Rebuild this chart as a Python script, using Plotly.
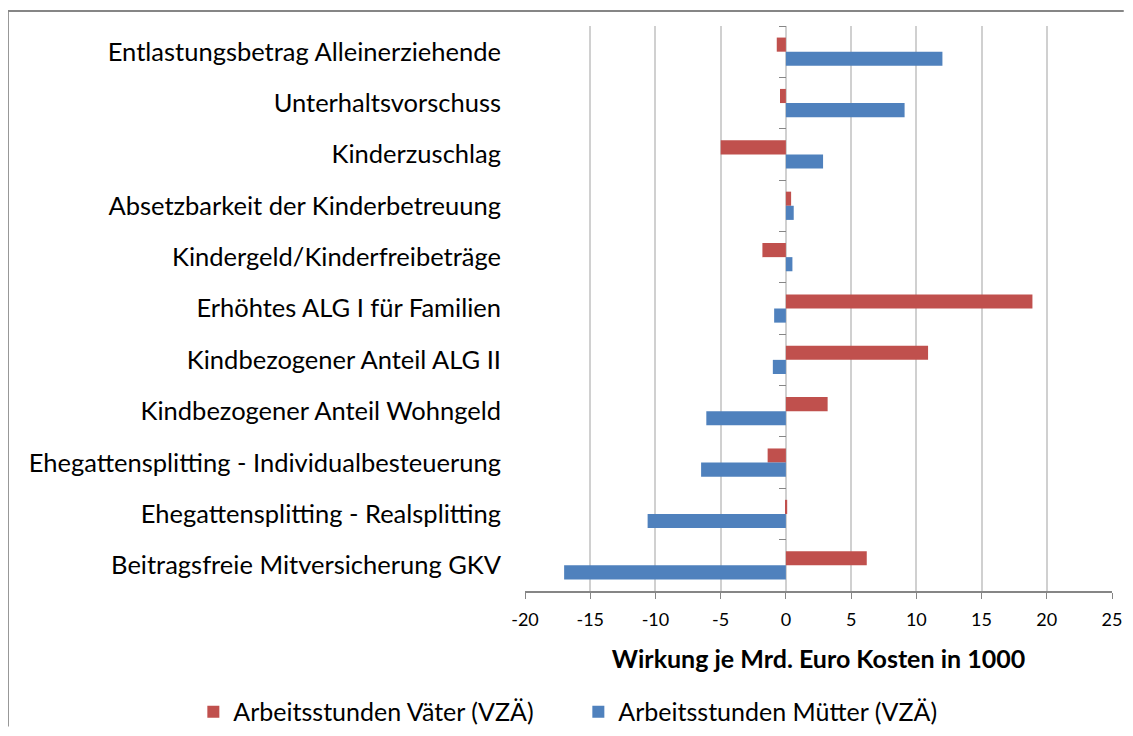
import plotly.graph_objects as go

categories = [
    "Entlastungsbetrag Alleinerziehende",
    "Unterhaltsvorschuss",
    "Kinderzuschlag",
    "Absetzbarkeit der Kinderbetreuung",
    "Kindergeld/Kinderfreibeträge",
    "Erhöhtes ALG I für Familien",
    "Kindbezogener Anteil ALG II",
    "Kindbezogener Anteil Wohngeld",
    "Ehegattensplitting - Individualbesteuerung",
    "Ehegattensplitting - Realsplitting",
    "Beitragsfreie Mitversicherung GKV",
]
vaeter = [-0.7, -0.45, -5.0, 0.4, -1.8, 18.9, 10.9, 3.2, -1.4, 0.1, 6.2]
muetter = [12.0, 9.1, 2.85, 0.6, 0.5, -0.9, -1.0, -6.1, -6.5, -10.6, -17.0]
x_ticks = [-20, -15, -10, -5, 0, 5, 10, 15, 20, 25]

FONT = "Lato"
RED = "#C0504D"
BLUE = "#4F81BD"
GRID = "#D0D0D0"
AXIS = "#868686"

fig = go.Figure()
fig.add_trace(go.Bar(y=categories, x=vaeter, orientation="h",
                     name="Arbeitsstunden Väter (VZÄ)",
                     marker=dict(color=RED, line=dict(width=0))))
fig.add_trace(go.Bar(y=categories, x=muetter, orientation="h",
                     name="Arbeitsstunden Mütter (VZÄ)",
                     marker=dict(color=BLUE, line=dict(width=0))))
# invisible trace carrying the category tick marks at x = 0
fig.add_trace(go.Scatter(y=categories, x=[0] * len(categories), yaxis="y2",
                         mode="markers", marker=dict(opacity=0, size=1),
                         showlegend=False, hoverinfo="skip"))

x_lo, x_hi = -20, 25
zero_pos = (0 - x_lo) / (x_hi - x_lo)
y_range = [len(categories) - 0.5, -0.5]

# page body has an 8px margin, so the figure is sized to fit the window
fig.update_layout(
    width=1117, height=720,
    margin=dict(l=517, r=13, t=18, b=137, autoexpand=False),
    paper_bgcolor="white", plot_bgcolor="white",
    barmode="group", bargap=0.45, bargroupgap=0,
    font=dict(family=FONT, color="#000000"),
    xaxis=dict(
        range=[x_lo, x_hi], tickvals=x_ticks, ticktext=[str(v) for v in x_ticks],
        showgrid=True, gridcolor=GRID, gridwidth=2,
        zeroline=True, zerolinecolor=GRID, zerolinewidth=2,
        showline=True, linecolor=AXIS, linewidth=2,
        ticks="outside", ticklen=6, tickcolor=AXIS, tickwidth=1,
        ticklabelstandoff=5,
        tickfont=dict(size=18, family=FONT),
        automargin=False,
        title=dict(text="<b>Wirkung je Mrd. Euro Kosten in 1000</b>",
                   font=dict(size=25, family=FONT), standoff=22),
    ),
    yaxis=dict(
        type="category", categoryorder="array", categoryarray=categories,
        range=y_range, autorange=False, showgrid=False, zeroline=False,
        showline=False, ticks="", tickfont=dict(size=25.5, family=FONT),
        ticklabelstandoff=23, automargin=False,
    ),
    yaxis2=dict(
        type="category", categoryorder="array", categoryarray=categories,
        overlaying="y", matches="y", anchor="free", position=zero_pos,
        side="left", showgrid=False, zeroline=False, showline=False,
        ticks="outside", tickson="boundaries", ticklen=7,
        tickcolor=AXIS, tickwidth=1, showticklabels=False, automargin=False,
    ),
    legend=dict(orientation="h", x=-0.565, xanchor="left",
                y=-0.214, yanchor="middle", font=dict(size=25, family=FONT),
                entrywidth=340, entrywidthmode="pixels",
                bgcolor="rgba(0,0,0,0)"),
    shapes=[
        dict(type="line", xref="paper", yref="paper",
             x0=-0.881, x1=-0.881, y0=-0.24, y1=1.0265,
             line=dict(color=AXIS, width=2), layer="below"),
        dict(type="line", xref="paper", yref="paper",
             x0=-0.881, x1=1.02, y0=1.0265, y1=1.0265,
             line=dict(color=AXIS, width=2), layer="below"),
    ],
)

fig.write_html("out.html")
